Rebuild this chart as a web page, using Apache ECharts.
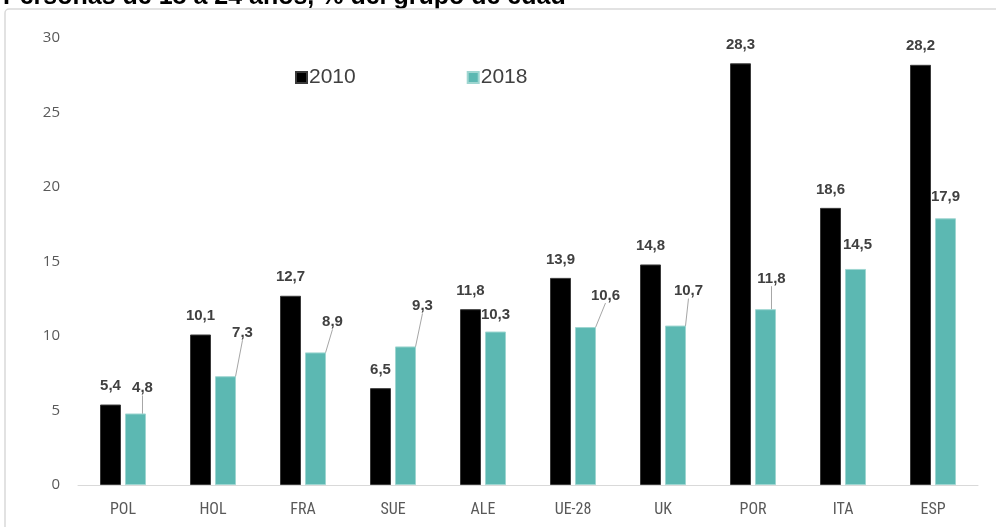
<!DOCTYPE html>
<html>
<head>
<meta charset="utf-8">
<script src="https://cdn.jsdelivr.net/npm/echarts@6/dist/echarts.min.js"></script>
<style>
html,body{margin:0;padding:0;background:#fff;}
#chart{width:996px;height:527px;}
</style>
</head>
<body>
<div id="chart"></div>
<script>
const titleText = 'Personas de 18 a 24 años, % del grupo de edad';
const categories = ['POL', 'HOL', 'FRA', 'SUE', 'ALE', 'UE-28', 'UK', 'POR', 'ITA', 'ESP'];
const seriesNames = ['2010', '2018'];
const values2010 = [5.4, 10.1, 12.7, 6.5, 11.8, 13.9, 14.8, 28.3, 18.6, 28.2];
const values2018 = [4.8, 7.3, 8.9, 9.3, 10.3, 10.6, 10.7, 11.8, 14.5, 17.9];

// label placement for the 2018 series (offset in px, and whether a leader line is drawn)
const labelShift2018 = [[7,-13],[17,-31],[17,-18],[17,-28],[0,-4],[20,-19],[13,-22],[6,-18],[2,-12],[0,-9]];
const leader2018 = [true,true,true,true,false,true,true,true,false,false];

const fmt = v => v.toFixed(1).replace('.', ',');

const chart = echarts.init(document.getElementById('chart'), null, {renderer:'canvas'});

const labelStyle = {
  show: true,
  position: 'top',
  fontFamily: 'Liberation Sans, Arial, sans-serif',
  fontWeight: 'bold',
  fontSize: 15,
  color: '#404040',
  formatter: p => fmt(p.value)
};

const data2018 = values2018.map((v, i) => ({
  value: v,
  labelLine: {show: leader2018[i]}
}));

chart.setOption({
  animation: false,
  backgroundColor: '#ffffff',
  graphic: [
    {
      type: 'text',
      left: 3,
      top: -15,
      z: 0,
      style: {
        text: titleText,
        font: 'bold 25px "Liberation Sans", Arial, sans-serif',
        fill: '#000000'
      }
    },
    {
      type: 'rect',
      z: 1,
      shape: {x: 5, y: 9, width: 1100, height: 600, r: 4},
      style: {fill: '#ffffff', stroke: '#d9d9d9', lineWidth: 1.5},
      silent: true
    }
  ],
  grid: {left: 78, right: 18, top: 38, bottom: 42, containLabel: false},
  legend: {
    data: seriesNames,
    left: 290,
    top: 62,
    z: 5,
    itemWidth: 11,
    itemHeight: 11,
    itemGap: 111,
    icon: 'rect',
    textStyle: {
      fontFamily: 'Liberation Sans, Arial, sans-serif',
      fontSize: 21,
      color: '#404040',
      padding: [0, 0, 0, -3]
    }
  },
  xAxis: {
    type: 'category',
    data: categories,
    z: 3,
    axisLine: {show: true, lineStyle: {color: '#d9d9d9', width: 1}},
    axisTick: {show: false},
    axisLabel: {
      margin: 17,
      fontFamily: '"Liberation Sans Narrow", "Roboto Condensed", "Liberation Sans", sans-serif',
      fontSize: 16,
      color: '#595959'
    }
  },
  yAxis: {
    type: 'value',
    min: 0,
    max: 30,
    interval: 5,
    z: 3,
    axisLine: {show: false},
    axisTick: {show: false},
    splitLine: {show: false},
    axisLabel: {
      margin: 18,
      fontFamily: '"Open Sans", "Liberation Sans", sans-serif',
      fontSize: 15,
      color: '#595959'
    }
  },
  series: [
    {
      name: seriesNames[0],
      type: 'bar',
      z: 3,
      data: values2010,
      barWidth: 21,
      barGap: '19%',
      itemStyle: {color: '#000000', borderColor: '#3a3a3a', borderWidth: 1},
      label: Object.assign({}, labelStyle, {distance: 11})
    },
    {
      name: seriesNames[1],
      type: 'bar',
      z: 3,
      data: data2018,
      barWidth: 21,
      barGap: '19%',
      itemStyle: {color: '#5cb8b2', borderColor: '#9fd6d1', borderWidth: 1},
      label: Object.assign({}, labelStyle, {distance: 5}),
      labelLine: {show: true, lineStyle: {color: '#a6a6a6', width: 1}},
      labelLayout: p => ({dx: labelShift2018[p.dataIndex][0], dy: labelShift2018[p.dataIndex][1]})
    }
  ]
});
</script>
</body>
</html>
